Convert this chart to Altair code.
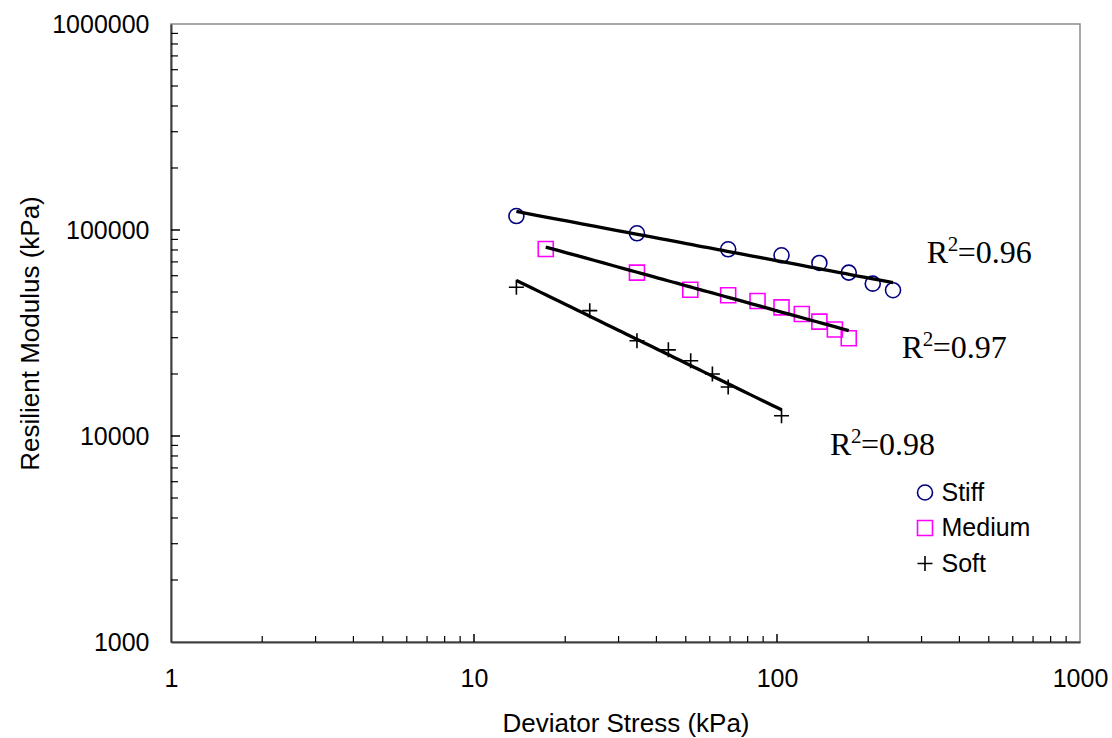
import altair as alt
import pandas as pd

# ---- data ----
series_names = ["Stiff", "Medium", "Soft"]
series_colors = ["#000080", "#FF00FF", "#000000"]
series_shapes = ["circle", "square", "M-1,0L1,0M0,-1L0,1"]

stiff_x = [13.8, 34.5, 69.0, 103.5, 138.0, 172.5, 207.0, 241.5]
stiff_y = [116900, 96400, 80600, 75400, 69200, 62100, 54900, 51000]

medium_x = [17.25, 34.5, 51.75, 69.0, 86.25, 103.5, 120.75, 138.0, 155.25, 172.5]
medium_y = [80900, 62100, 51300, 48200, 45200, 42100, 39100, 35900, 32900, 29800]

soft_x = [13.8, 24.1, 34.5, 43.8, 51.9, 61.2, 69.0, 103.5]
soft_y = [52700, 40600, 29000, 26200, 23200, 20000, 17300, 12550]

r2_main = ["R", "R", "R"]
r2_sup = ["2", "2", "2"]
r2_val = ["=0.96", "=0.97", "=0.98"]
r2_x = [312, 258, 149.6]
r2_y = [68900, 23850, 8090]

x_major = [1, 10, 100, 1000]
y_major = [1000, 10000, 100000, 1000000]
x_minor = [2, 3, 4, 5, 6, 7, 8, 9, 20, 30, 40, 50, 60, 70, 80, 90,
           200, 300, 400, 500, 600, 700, 800, 900]
y_minor = [2000, 3000, 4000, 5000, 6000, 7000, 8000, 9000,
           20000, 30000, 40000, 50000, 60000, 70000, 80000, 90000,
           200000, 300000, 400000, 500000, 600000, 700000, 800000, 900000]
x_inner_major = [10, 100]
y_inner_major = [10000, 100000]

# ---- tables ----
rows = []
for name, xs, ys in [("Stiff", stiff_x, stiff_y), ("Medium", medium_x, medium_y), ("Soft", soft_x, soft_y)]:
    for a, b in zip(xs, ys):
        rows.append({"series": name, "x": a, "y": b})
df = pd.DataFrame(rows)
r2_df = pd.DataFrame({"r": r2_main, "s": r2_sup, "v": r2_val, "x": r2_x, "y": r2_y})
xminor_df = pd.DataFrame({"x": x_minor})
yminor_df = pd.DataFrame({"y": y_minor})
xmaj_df = pd.DataFrame({"x": x_inner_major})
ymaj_df = pd.DataFrame({"y": y_inner_major})

W, H = 909, 618
SANS = "Liberation Sans"
SERIF = "Liberation Serif"

xscale = alt.Scale(type="log", domain=[1, 1000], nice=False)
yscale = alt.Scale(type="log", domain=[1000, 1000000], nice=False)

xaxis = alt.Axis(values=x_major, format="d", title="Deviator Stress (kPa)",
                 ticks=False, tickSize=0, grid=False, labelPadding=44,
                 labelBaseline="alphabetic", labelFont=SANS, labelFontSize=25,
                 labelColor="black", titleFont=SANS, titleFontSize=26,
                 titleFontWeight="normal", titleColor="black",
                 titleX=W / 2, titleY=89, titleBaseline="alphabetic", titleAlign="center",
                 domainColor="#404040", domainWidth=2, labelFlush=False, labelOverlap=False)
yaxis = alt.Axis(values=y_major, format="d", title="Resilient Modulus (kPa)",
                 ticks=False, tickSize=0, grid=False, labelPadding=22,
                 labelFont=SANS, labelFontSize=25, labelColor="black",
                 titleFont=SANS, titleFontSize=26, titleFontWeight="normal",
                 titleColor="black", titleX=-133, titleY=H / 2,
                 titleBaseline="alphabetic", titleAlign="center",
                 domainColor="#404040", domainWidth=2, labelFlush=False, labelOverlap=False)

X = alt.X("x:Q", scale=xscale, axis=xaxis)
Y = alt.Y("y:Q", scale=yscale, axis=yaxis)

legend = alt.Legend(title=None, orient="none", legendX=741.5, legendY=456,
                    padding=0, rowPadding=9.5, labelFont=SANS, labelFontSize=25,
                    labelColor="black", labelOffset=4, symbolSize=225,
                    symbolStrokeWidth=1.6)

points = alt.Chart(df).mark_point(filled=False, size=225, strokeWidth=1.6, opacity=1).encode(
    x=X, y=Y,
    color=alt.Color("series:N", scale=alt.Scale(domain=series_names, range=series_colors),
                    legend=legend, sort=series_names),
    shape=alt.Shape("series:N", scale=alt.Scale(domain=series_names, range=series_shapes),
                    legend=legend, sort=series_names),
)

fits = alt.Chart(df).transform_regression(
    "x", "y", method="pow", groupby=["series"]
).mark_line(color="black", strokeWidth=3.3).encode(x=X, y=Y, detail="series:N")

lab_r = alt.Chart(r2_df).mark_text(font=SERIF, fontSize=32, align="left",
                                   baseline="alphabetic", color="black").encode(
    x=X, y=Y, text="r:N")
lab_s = alt.Chart(r2_df).mark_text(font=SERIF, fontSize=21, align="left",
                                   baseline="alphabetic", color="black", dx=21, dy=-12).encode(
    x=X, y=Y, text="s:N")
lab_v = alt.Chart(r2_df).mark_text(font=SERIF, fontSize=32, align="left",
                                   baseline="alphabetic", color="black", dx=31).encode(
    x=X, y=Y, text="v:N")

tick_color = "#000000"
xminor = alt.Chart(xminor_df).mark_rule(color=tick_color, strokeWidth=1.2).encode(
    x=X, y=alt.value(H), y2=alt.value(H - 6))
xmajor = alt.Chart(xmaj_df).mark_rule(color=tick_color, strokeWidth=1.5).encode(
    x=X, y=alt.value(H), y2=alt.value(H - 8))
yminor = alt.Chart(yminor_df).mark_rule(color=tick_color, strokeWidth=1.2).encode(
    y=Y, x=alt.value(0), x2=alt.value(7))
ymajor = alt.Chart(ymaj_df).mark_rule(color=tick_color, strokeWidth=1.5).encode(
    y=Y, x=alt.value(0), x2=alt.value(9))

chart = alt.layer(points, fits, lab_r, lab_s, lab_v, xminor, xmajor, yminor, ymajor).properties(
    width=W, height=H,
    autosize=alt.AutoSizeParams(type="none"),
    padding={"left": 171, "top": 24, "right": 32, "bottom": 96},
    background="white",
).configure_view(stroke="#8c8c8c", strokeWidth=1.5)

chart.save("out.html", embed_options={"renderer": "svg", "actions": False})
